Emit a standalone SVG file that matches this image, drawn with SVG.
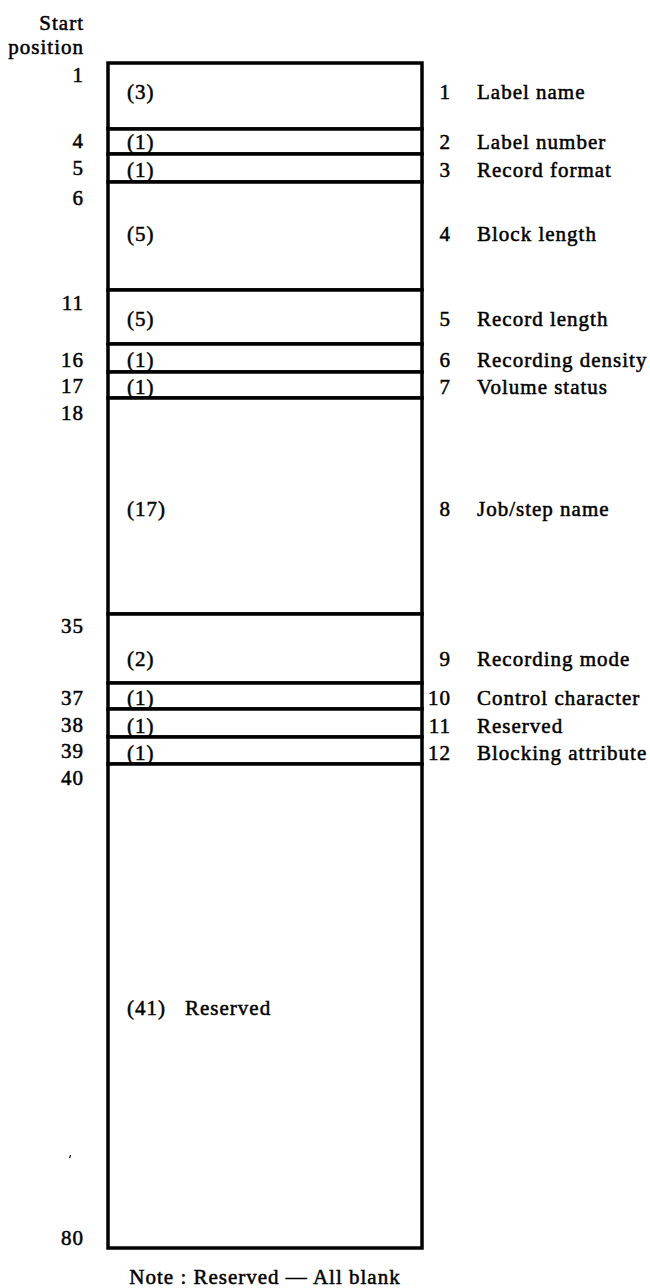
<svg xmlns="http://www.w3.org/2000/svg" width="650" height="1288" viewBox="0 0 650 1288">
<style>
.t{font-family:"Liberation Serif","Times New Roman",serif;font-size:21px;letter-spacing:1px;fill:#000;stroke:#000;stroke-width:0.5}
.e{text-anchor:end}
.f{fill:#fff;stroke:#000;stroke-width:3.5}
</style>
<rect width="650" height="1288" fill="#fff"/>
<g id="header">
<text class="t e" x="84" y="30">Start</text>
<text class="t e" x="84" y="54">position</text>
</g>
<g id="f1"><rect class="f" x="108" y="63" width="314" height="66"/><text class="t e" x="84" y="82">1</text><text class="t" x="127" y="99">(3)</text><text class="t e" x="451" y="99">1</text><text class="t" x="477" y="99">Label name</text></g>
<g id="f4"><rect class="f" x="108" y="129" width="314" height="25"/><text class="t e" x="84" y="148">4</text><text class="t" x="127" y="149">(1)</text><text class="t e" x="451" y="149">2</text><text class="t" x="477" y="149">Label number</text></g>
<g id="f5"><rect class="f" x="108" y="154" width="314" height="28"/><text class="t e" x="84" y="175">5</text><text class="t" x="127" y="177">(1)</text><text class="t e" x="451" y="177">3</text><text class="t" x="477" y="177">Record format</text></g>
<g id="f6"><rect class="f" x="108" y="182" width="314" height="108"/><text class="t e" x="84" y="205">6</text><text class="t" x="127" y="241">(5)</text><text class="t e" x="451" y="241">4</text><text class="t" x="477" y="241">Block length</text></g>
<g id="f11"><rect class="f" x="108" y="290" width="314" height="54"/><text class="t e" x="84" y="310">11</text><text class="t" x="127" y="326">(5)</text><text class="t e" x="451" y="326">5</text><text class="t" x="477" y="326">Record length</text></g>
<g id="f16"><rect class="f" x="108" y="344" width="314" height="28"/><text class="t e" x="84" y="367">16</text><text class="t" x="127" y="367">(1)</text><text class="t e" x="451" y="367">6</text><text class="t" x="477" y="367">Recording density</text></g>
<g id="f17"><rect class="f" x="108" y="372" width="314" height="26"/><text class="t e" x="84" y="393">17</text><text class="t" x="127" y="394">(1)</text><text class="t e" x="451" y="394">7</text><text class="t" x="477" y="394">Volume status</text></g>
<g id="f18"><rect class="f" x="108" y="398" width="314" height="216"/><text class="t e" x="84" y="420">18</text><text class="t" x="127" y="516">(17)</text><text class="t e" x="451" y="516">8</text><text class="t" x="477" y="516">Job/step name</text></g>
<g id="f35"><rect class="f" x="108" y="614" width="314" height="69"/><text class="t e" x="84" y="633">35</text><text class="t" x="127" y="666">(2)</text><text class="t e" x="451" y="666">9</text><text class="t" x="477" y="666">Recording mode</text></g>
<g id="f37"><rect class="f" x="108" y="683" width="314" height="26"/><text class="t e" x="84" y="705">37</text><text class="t" x="127" y="705">(1)</text><text class="t e" x="451" y="705">10</text><text class="t" x="477" y="705">Control character</text></g>
<g id="f38"><rect class="f" x="108" y="709" width="314" height="28"/><text class="t e" x="84" y="732">38</text><text class="t" x="127" y="733">(1)</text><text class="t e" x="451" y="733">11</text><text class="t" x="477" y="733">Reserved</text></g>
<g id="f39"><rect class="f" x="108" y="737" width="314" height="27"/><text class="t e" x="84" y="758">39</text><text class="t" x="127" y="760">(1)</text><text class="t e" x="451" y="760">12</text><text class="t" x="477" y="760">Blocking attribute</text></g>
<g id="f40"><rect class="f" x="108" y="764" width="314" height="484"/><text class="t e" x="84" y="785">40</text><text class="t" x="127" y="1015">(41)</text><text class="t" x="185" y="1015">Reserved</text><text class="t e" x="84" y="1245">80</text></g>
<g id="connectors"></g>
<path d="M70.5 1155 l-0.8 3" stroke="#000" stroke-width="1.2"/>
<g id="note"><text class="t" x="265" y="1284" text-anchor="middle">Note : Reserved — All blank</text></g>
</svg>
